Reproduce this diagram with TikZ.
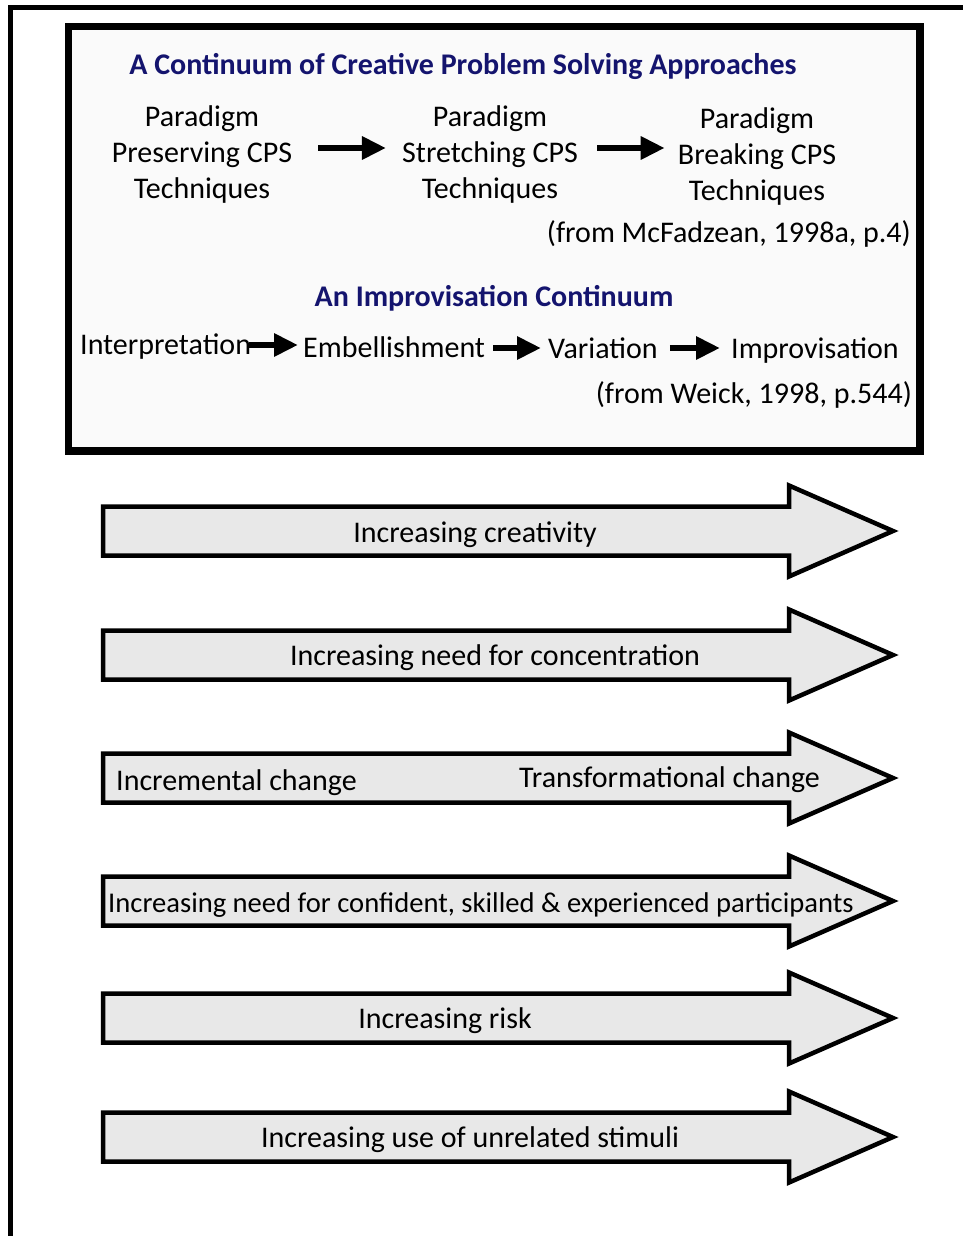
\documentclass[tikz,border=0pt]{standalone}
\usepackage{fontspec}
\setmainfont{Carlito}
\usetikzlibrary{arrows.meta}
\definecolor{titleblue}{RGB}{20,20,110}
\definecolor{arrowfill}{RGB}{232,232,232}
\definecolor{panelfill}{RGB}{250,250,250}
\begin{document}
\begin{tikzpicture}[x=1pt,y=-1pt,
  txt/.style={inner sep=0pt, font=\fontsize{30}{36}\selectfont, text height=21pt, text depth=6.5pt},
  multi/.style={inner sep=0pt, font=\fontsize{30}{36}\selectfont, align=center},
  heading/.style={inner sep=0pt, font=\fontsize{30}{36}\selectfont\bfseries, text=titleblue, text height=21pt, text depth=6.5pt},
  smarrow/.style={line width=6pt, -{Triangle[length=24pt,width=22pt]}},
  blockarrow/.style={draw, line width=4.5pt, fill=arrowfill, miter limit=10},
]
\useasboundingbox (0,0) rectangle (962,1236);

% open outer frame: top and left sides only
\draw[line width=5pt] (10.5,1240) -- (10.5,7.5) -- (965,7.5);

% panel with the two continua
\draw[line width=7.5pt, fill=panelfill] (68.5,26.5) rectangle (920,451);

\node[heading] (t1) at (463,67) {A Continuum of Creative Problem Solving Approaches};
\node[multi] (c1) at (202,155) {Paradigm\\Preserving CPS\\Techniques};
\node[multi] (c2) at (490,155) {Paradigm\\Stretching CPS\\Techniques};
\node[multi] (c3) at (757,157) {Paradigm\\Breaking CPS\\Techniques};
\node[txt, anchor=east] (s1) at (911,235) {(from McFadzean, 1998a, p.4)};
\draw[smarrow, shorten <=26pt, shorten >=16pt] (c1.east |- 0,148) -- (c2.west |- 0,148);
\draw[smarrow, shorten <=19pt, shorten >=13pt] (c2.east |- 0,148) -- (c3.west |- 0,148);

\node[heading] (t2) at (494,299) {An Improvisation Continuum};
\node[txt, anchor=west] (i1) at (80,347) {Interpretation};
\node[txt, anchor=west] (i2) at (303,350) {Embellishment};
\node[txt, anchor=west] (i3) at (548,351) {Variation};
\node[txt, anchor=west] (i4) at (731,351) {Improvisation};
\node[txt, anchor=east] (s2) at (912,396) {(from Weick, 1998, p.544)};
\draw[smarrow, shorten <=-2pt, shorten >=5pt] (i1.east |- 0,345) -- (i2.west |- 0,345);
\draw[smarrow, shorten <=8pt, shorten >=7pt] (i2.east |- 0,348) -- (i3.west |- 0,348);
\draw[smarrow, shorten <=12pt, shorten >=11pt] (i3.east |- 0,348) -- (i4.west |- 0,348);

% block arrows
\foreach \yy in {531,655,778,901,1018,1137} {
  \draw[blockarrow] (103,\yy-24.5) -- (789,\yy-24.5) -- (789,\yy-45.5) -- (893,\yy)
    -- (789,\yy+45.5) -- (789,\yy+24.5) -- (103,\yy+24.5) -- cycle;
}
\node[txt] (b1) at (475,535) {Increasing creativity};
\node[txt] (b2) at (495,658) {Increasing need for concentration};
\node[txt, anchor=west] (b3a) at (116,783) {Incremental change};
\node[txt, anchor=west] (b3b) at (519,780) {Transformational change};
\node[txt, anchor=west, font=\fontsize{28.6}{34}\selectfont] (b4) at (108,905) {Increasing need for confident, skilled \& experienced participants};
\node[txt] (b5) at (445,1021) {Increasing risk};
\node[txt] (b6) at (470,1140) {Increasing use of unrelated stimuli};
\end{tikzpicture}
\end{document}
